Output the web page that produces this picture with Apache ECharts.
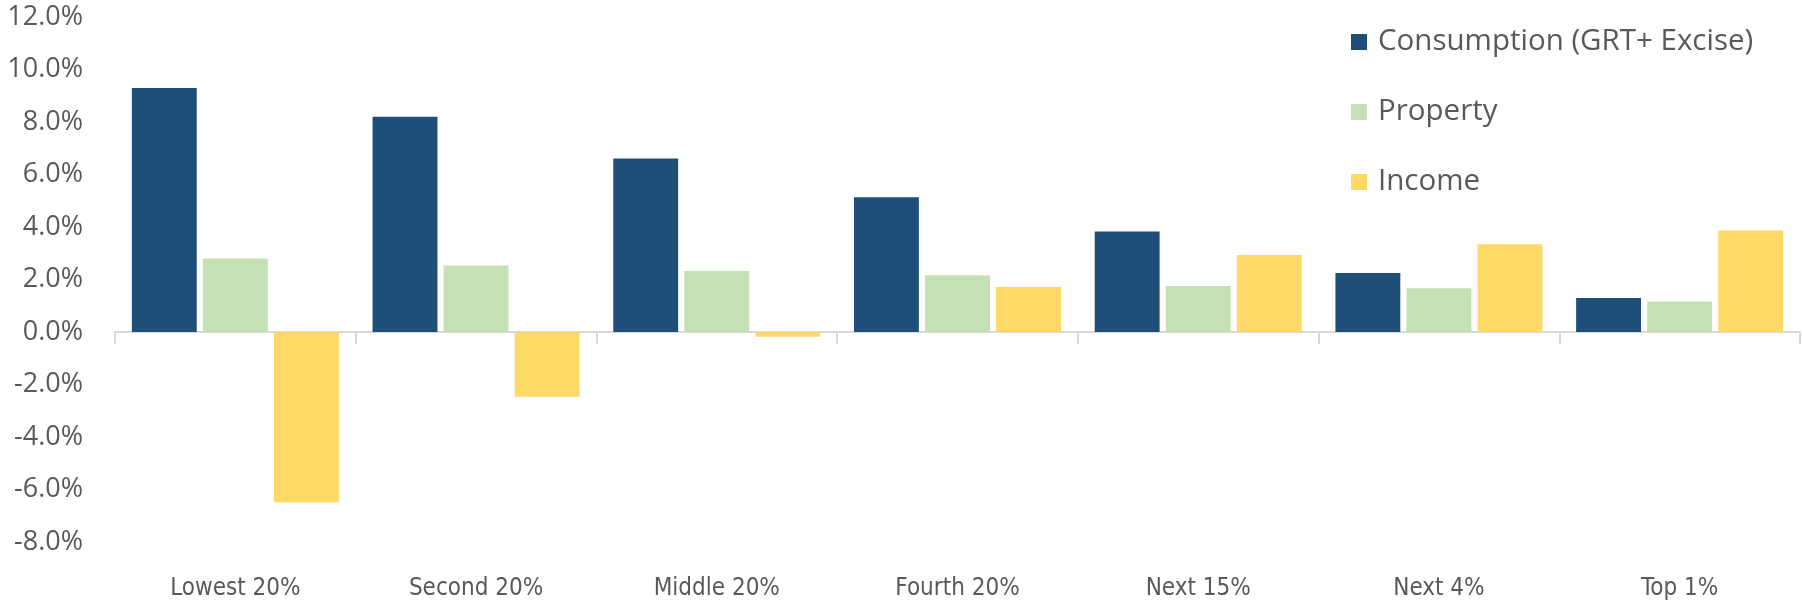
<!DOCTYPE html>
<html>
<head>
<meta charset="utf-8">
<script src="https://cdn.jsdelivr.net/npm/echarts@6/dist/echarts.min.js"></script>
<style>
html,body{margin:0;padding:0;background:#fff;}
#chart{width:1803px;height:607px;}
</style>
</head>
<body>
<div id="chart"></div>
<script>
const categories = ['Lowest 20%', 'Second 20%', 'Middle 20%', 'Fourth 20%', 'Next 15%', 'Next 4%', 'Top 1%'];
const seriesNames = ['Consumption (GRT+ Excise)', 'Property', 'Income'];
const consumption = [9.3, 8.2, 6.61, 5.13, 3.83, 2.25, 1.3];
const property = [2.8, 2.53, 2.32, 2.16, 1.75, 1.67, 1.16];
const income = [-6.49, -2.47, -0.18, 1.71, 2.93, 3.34, 3.87];
const yTicks = {min: -8, max: 12, interval: 2};

const colors = ['#1F4E79', '#C5E0B4', '#FFD966'];
const textColor = '#595959';

const chart = echarts.init(document.getElementById('chart'));
const values = [consumption, property, income];
chart.setOption({
  animation: false,
  color: colors,
  grid: {left: 115, right: 3, top: 17, bottom: 65, containLabel: false},
  legend: {
    orient: 'vertical',
    left: 1346,
    top: 22,
    itemWidth: 16,
    itemHeight: 16,
    itemGap: 40,
    icon: 'rect',
    textStyle: {color: textColor, fontSize: 29.5, fontFamily: 'Open Sans', lineHeight: 30, padding: [0, 0, 0, 6]},
    data: seriesNames
  },
  xAxis: [
    {
      type: 'category',
      data: categories,
      axisLine: {onZero: true, lineStyle: {color: '#D9D9D9', width: 2}},
      axisTick: {show: true, length: 12, lineStyle: {color: '#D9D9D9', width: 2}},
      axisLabel: {show: false}
    },
    {
      type: 'category',
      data: categories,
      position: 'bottom',
      axisLine: {show: false, onZero: false},
      axisTick: {show: false},
      axisLabel: {color: textColor, fontSize: 24, fontFamily: "'Liberation Sans Narrow', 'DejaVu Sans Condensed', sans-serif", margin: 35}
    }
  ],
  yAxis: {
    type: 'value',
    min: yTicks.min,
    max: yTicks.max,
    interval: yTicks.interval,
    axisLine: {show: false},
    axisTick: {show: false},
    splitLine: {show: false},
    axisLabel: {
      color: textColor, fontSize: 27, fontFamily: 'Open Sans', margin: 32,
      formatter: v => v.toFixed(1) + '%'
    }
  },
  series: seriesNames.map((name, i) => ({
    name: name,
    type: 'bar',
    xAxisIndex: 0,
    data: values[i],
    barGap: '9.5%',
    barCategoryGap: '14%',
    itemStyle: {color: colors[i]}
  }))
});
</script>
</body>
</html>
